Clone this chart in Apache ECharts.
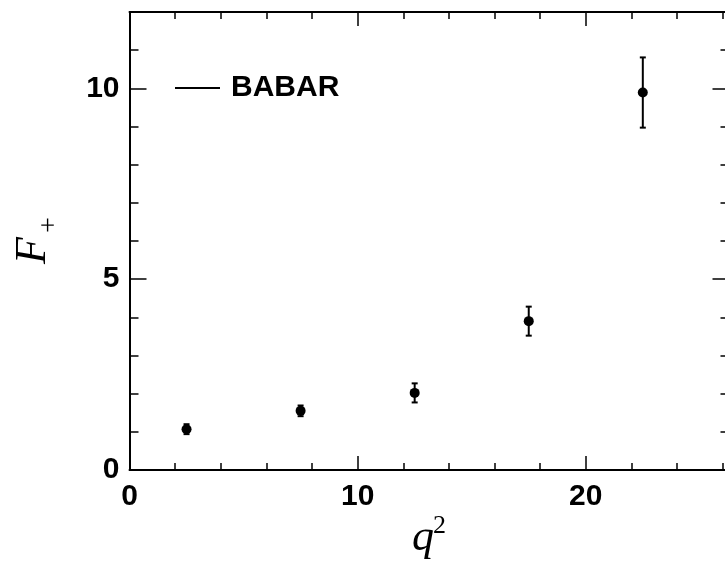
<!DOCTYPE html>
<html>
<head>
<meta charset="utf-8">
<script src="https://cdn.jsdelivr.net/npm/echarts@6/dist/echarts.min.js"></script>
<style>
  html, body { margin: 0; padding: 0; background: #fff; }
  #chart { width: 725px; height: 566px; }
</style>
</head>
<body>
<div id="chart"></div>
<script>
// q^2 bin centres, F+ values and errors
var qSq = [2.5, 7.5, 12.5, 17.5, 22.5];
var fPlus = [1.07, 1.55, 2.02, 3.90, 9.89];
var fErr = [0.13, 0.14, 0.25, 0.38, 0.92];
var xTickLabels = [0, 10, 20];
var yTickLabels = [0, 5, 10];

var points = qSq.map(function (q, i) { return [q, fPlus[i]]; });
var bars = qSq.map(function (q, i) { return [q, fPlus[i] - fErr[i], fPlus[i] + fErr[i]]; });

var labelFont = { fontSize: 30, fontWeight: 'bold', fontFamily: 'Liberation Sans', color: '#000' };

function makeAxis(pos, min, max, step, len, line, labels, tickList) {
  return {
    type: 'value', position: pos, min: min, max: max, interval: step,
    axisLine: { show: line, onZero: false, lineStyle: { color: '#000', width: 2 } },
    axisTick: { show: true, inside: true, length: len, lineStyle: { color: '#000', width: 1.5 } },
    axisLabel: labels ? Object.assign({
      margin: pos === 'bottom' ? 12 : 10,
      showMaxLabel: false,
      formatter: function (v) { return tickList.indexOf(v) >= 0 ? String(v) : ''; }
    }, labelFont) : { show: false },
    splitLine: { show: false }
  };
}

var myChart = echarts.init(document.getElementById('chart'));
myChart.setOption({
  animation: false,
  grid: { left: 129.5, top: 12, width: 600, height: 458, outerBoundsMode: 'none' },
  legend: {
    data: [{ name: 'BABAR', icon: 'rect' }],
    left: 175, top: 73, padding: 0,
    itemWidth: 45, itemHeight: 2,
    selectedMode: false,
    textStyle: Object.assign({ padding: [0, 0, 0, 6] }, labelFont)
  },
  xAxis: [
    makeAxis('bottom', 0, 26.3, 2, 7, true, true, xTickLabels),
    makeAxis('bottom', 0, 26.3, 10, 14, false, false),
    makeAxis('top', 0, 26.3, 2, 7, true, false),
    makeAxis('top', 0, 26.3, 10, 14, false, false)
  ],
  yAxis: [
    makeAxis('left', 0, 12, 1, 9, true, true, yTickLabels),
    makeAxis('left', 0, 12, 5, 17, false, false),
    makeAxis('right', 0, 12, 1, 9, true, false),
    makeAxis('right', 0, 12, 5, 17, false, false)
  ],
  graphic: [
    { type: 'text', x: 33, y: 250.5, rotation: Math.PI / 2,
      style: { text: 'F', font: 'italic 44px "Liberation Serif"', fill: '#000', align: 'center', verticalAlign: 'middle' } },
    { type: 'text', x: 49.5, y: 225, rotation: Math.PI / 2,
      style: { text: '+', font: '28px "Liberation Serif"', fill: '#000', align: 'center', verticalAlign: 'middle' } },
    { type: 'text', x: 423, y: 538,
      style: { text: 'q', font: 'italic 44px "Liberation Serif"', fill: '#000', align: 'center', verticalAlign: 'middle' } },
    { type: 'text', x: 439.5, y: 526,
      style: { text: '2', font: '26px "Liberation Serif"', fill: '#000', align: 'center', verticalAlign: 'middle' } }
  ],
  series: [
    {
      name: 'BABAR',
      type: 'custom',
      xAxisIndex: 0, yAxisIndex: 0,
      itemStyle: { color: '#000' },
      data: bars,
      encode: { x: 0, y: [1, 2] },
      renderItem: function (params, api) {
        var x = api.value(0);
        var lo = api.coord([x, api.value(1)]);
        var hi = api.coord([x, api.value(2)]);
        var w = 3;
        var st = { stroke: '#000', lineWidth: 2 };
        return {
          type: 'group',
          children: [
            { type: 'line', shape: { x1: hi[0], y1: hi[1], x2: lo[0], y2: lo[1] }, style: st },
            { type: 'line', shape: { x1: hi[0] - w, y1: hi[1], x2: hi[0] + w, y2: hi[1] }, style: st },
            { type: 'line', shape: { x1: lo[0] - w, y1: lo[1], x2: lo[0] + w, y2: lo[1] }, style: st }
          ]
        };
      }
    },
    {
      name: 'BABAR',
      type: 'scatter',
      xAxisIndex: 0, yAxisIndex: 0,
      symbol: 'circle',
      symbolSize: 10,
      itemStyle: { color: '#000', opacity: 1 },
      data: points
    }
  ]
});
</script>
</body>
</html>
